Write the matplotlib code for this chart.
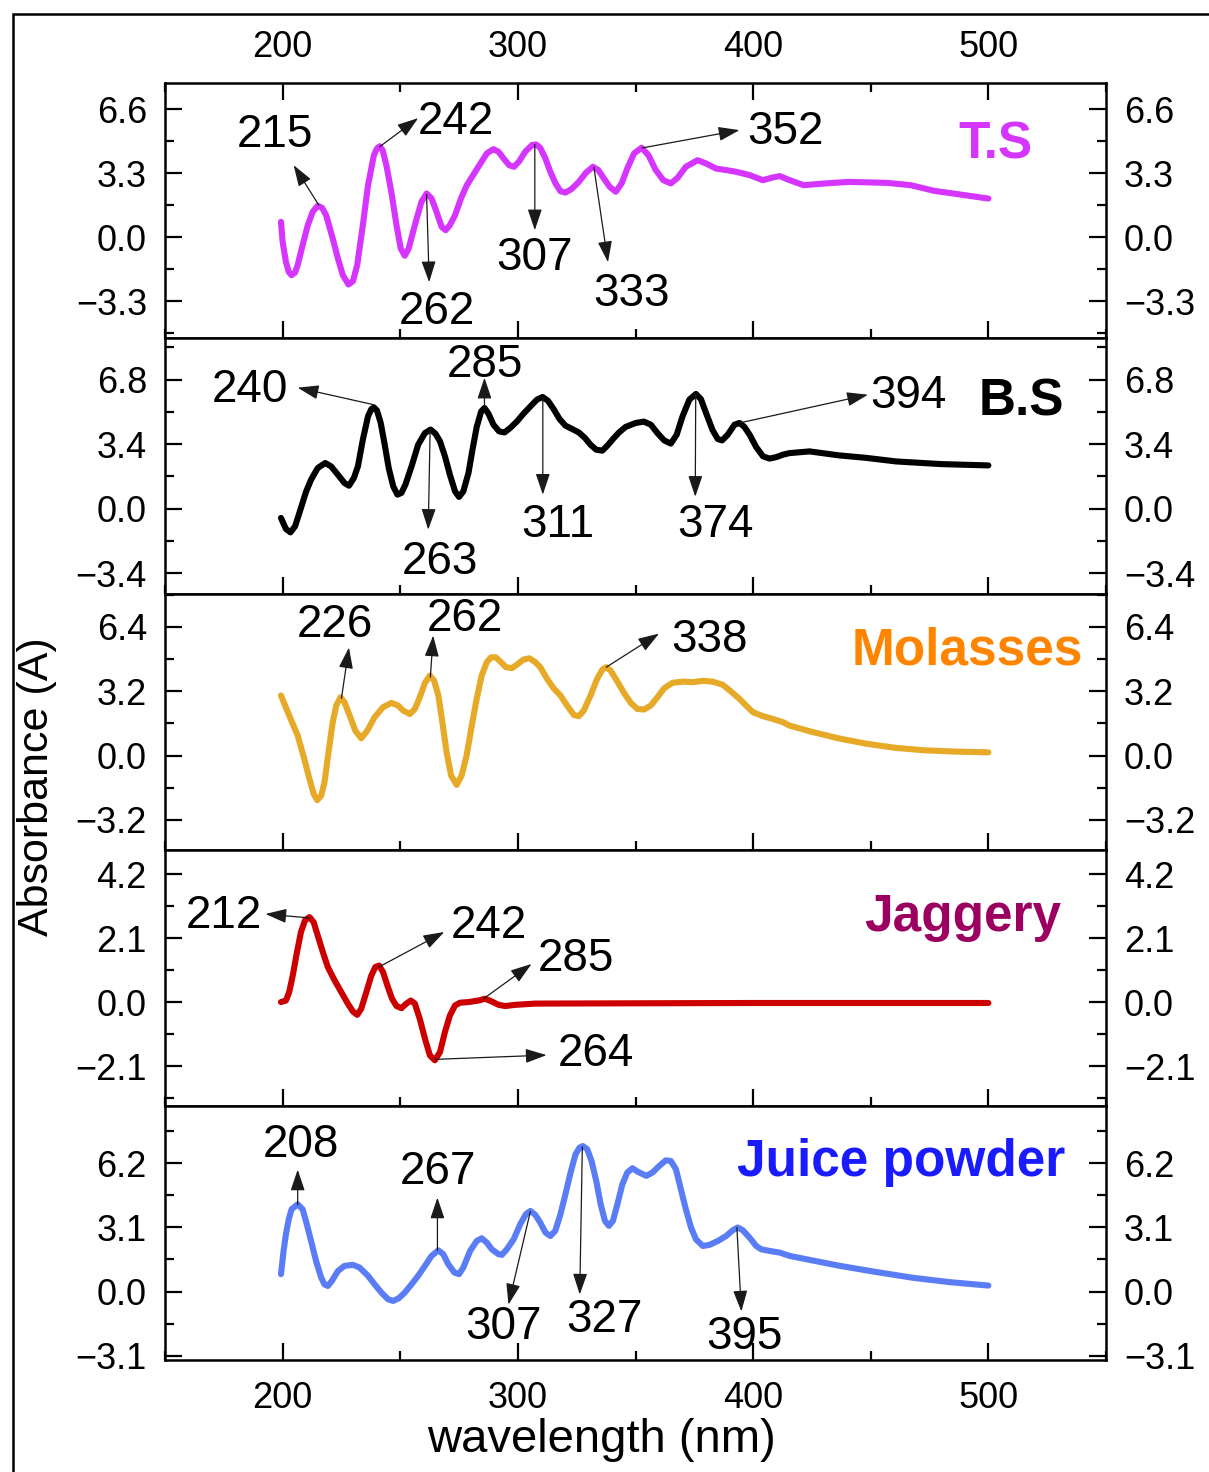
import matplotlib
matplotlib.use('Agg')
import matplotlib.pyplot as plt
from matplotlib.ticker import FixedLocator, MultipleLocator, FuncFormatter
from matplotlib.patches import Rectangle

plt.rcParams['font.family'] = ['Liberation Sans', 'DejaVu Sans']

# ---------------- data ----------------
wl_ts = [199.3, 200.0, 201.4, 202.6, 203.8, 205.3, 206.4, 208.5, 210.7, 212.8,
         214.9, 216.8, 218.5, 221.3, 223.5, 225.6, 228.0, 229.9, 231.7, 234.1,
         236.3, 238.8, 240.1, 241.3, 242.5, 244.1, 246.2, 248.4, 250.2, 251.9,
         253.6, 256.2, 259.0, 261.2, 263.3, 265.4, 267.6, 269.3, 271.1, 273.3,
         275.8, 278.3, 283.2, 286.8, 289.6, 291.8, 293.9, 296.3, 298.4, 300.6,
         303.1, 306.0, 307.7, 309.5, 311.7, 313.8, 316.0, 318.1, 320.2, 322.8,
         325.9, 329.0, 331.9, 334.2, 336.6, 339.0, 341.6, 344.1, 346.5, 349.4,
         352.6, 355.5, 358.6, 361.8, 365.0, 367.9, 371.4, 376.4, 380.0, 384.2,
         388.5, 392.8, 398.5, 404.1, 408.4, 411.3, 415.5, 421.5, 430.6, 440.5,
         457.0, 467.0, 476.9, 488.0, 500.0]
abs_ts = [0.79, -0.24, -1.27, -1.79, -1.96, -1.82, -1.44, -0.41, 0.62, 1.31,
          1.62, 1.51, 1.13, -0.07, -1.10, -1.96, -2.44, -2.27, -1.44, 0.62,
          2.68, 4.23, 4.57, 4.69, 4.49, 3.71, 2.34, 0.62, -0.58, -0.96,
          -0.58, 0.62, 1.82, 2.25, 2.00, 1.31, 0.53, 0.36, 0.62, 1.13,
          1.99, 2.68, 3.63, 4.32, 4.54, 4.40, 4.06, 3.71, 3.63, 3.92,
          4.40, 4.75, 4.78, 4.61, 4.06, 3.37, 2.77, 2.37, 2.30, 2.48,
          2.85, 3.33, 3.63, 3.46, 3.02, 2.60, 2.34, 2.77, 3.54, 4.32,
          4.61, 4.23, 3.46, 2.94, 2.77, 3.06, 3.63, 3.97, 3.80, 3.54,
          3.46, 3.37, 3.20, 2.94, 3.08, 3.15, 2.94, 2.68, 2.77, 2.85,
          2.80, 2.68, 2.39, 2.20, 1.99]

wl_bs = [199.3, 201.4, 203.3, 205.3, 207.8, 210.0, 212.1, 214.9, 218.1, 220.6,
         223.5, 226.3, 228.2, 230.3, 232.0, 234.1, 236.3, 237.7, 238.8, 240.1,
         241.7, 243.4, 245.1, 247.0, 248.8, 250.5, 252.2, 254.8, 257.6, 260.5,
         262.9, 265.0, 266.9, 269.0, 271.1, 273.3, 275.0, 276.8, 279.0, 280.7,
         282.5, 284.4, 285.8, 287.5, 289.6, 292.0, 294.3, 296.7, 299.6, 302.4,
         305.3, 308.1, 310.5, 312.8, 315.2, 317.7, 320.2, 323.1, 325.9, 328.5,
         330.9, 333.3, 335.9, 338.0, 340.4, 343.0, 345.8, 350.1, 353.6, 356.5,
         359.3, 362.2, 365.0, 367.5, 370.0, 372.9, 375.7, 377.8, 380.0, 382.8,
         385.0, 386.8, 389.2, 392.1, 394.2, 396.3, 398.5, 401.3, 404.2, 407.0,
         409.9, 412.7, 415.5, 424.0, 436.5, 448.0, 460.8, 480.0, 500.0]
abs_bs = [-0.49, -1.07, -1.25, -0.93, 0.04, 0.91, 1.53, 2.14, 2.41, 2.23,
          1.79, 1.35, 1.21, 1.62, 2.23, 3.64, 4.87, 5.25, 5.34, 5.18,
          4.52, 3.37, 2.14, 1.18, 0.74, 0.83, 1.27, 2.23, 3.37, 3.99,
          4.17, 3.95, 3.55, 2.76, 1.79, 0.91, 0.62, 0.91, 1.88, 3.11,
          4.31, 5.13, 5.31, 5.01, 4.43, 4.08, 4.02, 4.25, 4.60, 5.01,
          5.39, 5.75, 5.89, 5.69, 5.25, 4.73, 4.38, 4.20, 4.02, 3.73,
          3.37, 3.11, 3.06, 3.32, 3.67, 4.02, 4.31, 4.52, 4.59, 4.43,
          3.99, 3.60, 3.43, 3.90, 4.87, 5.75, 6.05, 5.78, 5.04, 4.13,
          3.67, 3.60, 3.90, 4.43, 4.52, 4.31, 3.90, 3.25, 2.76, 2.64,
          2.72, 2.85, 2.93, 3.02, 2.81, 2.68, 2.49, 2.35, 2.28]

wl_mo = [199.3, 202.8, 206.4, 209.2, 211.4, 213.2, 214.7, 216.4, 217.8, 219.5,
         221.3, 222.8, 224.6, 226.3, 228.5, 230.9, 233.4, 236.0, 239.1, 242.7,
         246.2, 249.1, 251.2, 254.1, 256.2, 258.3, 260.5, 262.6, 264.4, 266.2,
         267.9, 269.7, 271.6, 274.0, 276.1, 278.2, 280.4, 282.5, 284.6, 286.8,
         288.6, 290.6, 292.8, 294.9, 297.5, 300.0, 302.4, 304.9, 307.4, 309.5,
         312.4, 315.2, 318.1, 320.9, 323.8, 325.9, 328.0, 330.9, 333.7, 335.9,
         337.6, 339.4, 342.3, 345.1, 348.0, 350.8, 353.6, 356.5, 359.3, 362.2,
         365.7, 370.0, 374.3, 378.6, 382.8, 387.1, 390.6, 394.2, 397.0, 399.9,
         404.2, 408.4, 412.7, 415.5, 424.0, 436.5, 448.6, 460.8, 473.0, 485.4,
         500.0]
abs_mo = [2.99, 1.99, 1.00, -0.17, -1.16, -1.91, -2.22, -1.99, -1.33, 0.16,
          1.66, 2.49, 2.90, 2.65, 1.99, 1.24, 0.86, 1.24, 1.91, 2.41,
          2.62, 2.49, 2.24, 2.07, 2.32, 2.90, 3.62, 3.98, 3.73, 2.99,
          1.66, 0.17, -0.99, -1.46, -0.99, 0.00, 1.49, 2.82, 3.98, 4.65,
          4.89, 4.89, 4.65, 4.40, 4.35, 4.56, 4.78, 4.84, 4.65, 4.40,
          3.82, 3.35, 2.99, 2.49, 2.02, 1.96, 2.24, 2.99, 3.82, 4.28,
          4.40, 4.23, 3.68, 3.12, 2.62, 2.32, 2.29, 2.49, 2.90, 3.35,
          3.62, 3.68, 3.65, 3.72, 3.68, 3.52, 3.19, 2.82, 2.49, 2.16,
          1.96, 1.82, 1.66, 1.49, 1.21, 0.85, 0.58, 0.38, 0.26, 0.20,
          0.16]

wl_jg = [199.3, 201.4, 202.8, 204.3, 206.1, 207.8, 209.5, 211.4, 213.2, 214.9,
         217.1, 219.2, 222.1, 224.9, 227.7, 229.9, 231.7, 233.4, 235.6, 237.7,
         239.4, 241.0, 242.7, 244.5, 246.5, 248.4, 250.5, 252.6, 254.5, 256.2,
         258.3, 260.5, 262.6, 264.7, 266.9, 269.0, 271.1, 273.3, 275.4, 279.0,
         283.2, 286.1, 288.9, 291.8, 294.6, 298.9, 307.4, 350.0, 400.0, 450.0,
         500.0]
abs_jg = [0.00, 0.05, 0.33, 0.87, 1.64, 2.30, 2.68, 2.79, 2.62, 2.19,
          1.64, 1.15, 0.71, 0.33, -0.05, -0.31, -0.42, -0.22, 0.33, 0.87,
          1.15, 1.20, 0.98, 0.55, 0.11, -0.13, -0.20, -0.05, 0.05, -0.05,
          -0.55, -1.20, -1.75, -1.91, -1.64, -0.98, -0.44, -0.11, -0.02, 0.00,
          0.05, 0.11, 0.02, -0.09, -0.13, -0.09, -0.05, -0.04, -0.03, -0.03,
          -0.03]

wl_jp = [199.3, 200.4, 201.4, 202.6, 203.8, 206.4, 208.5, 209.9, 212.1, 214.2,
         216.4, 217.8, 219.2, 220.9, 223.5, 226.3, 229.9, 232.7, 236.3, 239.1,
         242.0, 244.8, 247.0, 249.4, 251.9, 254.8, 257.6, 260.5, 263.3, 266.2,
         268.3, 270.4, 273.0, 275.0, 276.8, 279.7, 282.5, 284.6, 286.8, 288.9,
         291.8, 293.2, 295.3, 298.2, 301.0, 303.4, 305.3, 307.4, 309.5, 311.7,
         313.8, 315.9, 318.1, 320.2, 322.4, 324.5, 326.2, 327.6, 329.5, 331.3,
         333.3, 335.2, 337.0, 338.7, 340.4, 342.3, 344.4, 346.5, 348.7, 350.8,
         354.6, 357.2, 360.1, 362.9, 365.0, 367.2, 369.3, 371.4, 373.6, 375.7,
         378.6, 381.4, 385.0, 388.5, 391.4, 393.5, 395.6, 398.5, 401.3, 403.4,
         407.0, 411.3, 415.5, 436.4, 452.0, 468.2, 484.0, 500.0]
abs_jp = [0.84, 1.96, 2.76, 3.49, 3.97, 4.21, 3.97, 3.41, 2.44, 1.48,
          0.67, 0.35, 0.27, 0.51, 0.99, 1.24, 1.29, 1.16, 0.76, 0.35,
          -0.05, -0.37, -0.45, -0.32, -0.05, 0.35, 0.76, 1.24, 1.72, 1.99,
          1.80, 1.32, 0.92, 0.84, 1.16, 1.96, 2.44, 2.57, 2.36, 2.04,
          1.80, 1.77, 2.04, 2.52, 3.25, 3.73, 3.89, 3.70, 3.33, 2.85,
          2.68, 2.93, 3.73, 4.69, 5.74, 6.62, 6.94, 7.02, 6.86, 6.30,
          5.34, 4.21, 3.41, 3.17, 3.41, 4.21, 5.17, 5.74, 5.95, 5.79,
          5.58, 5.74, 6.06, 6.33, 6.30, 5.90, 4.93, 3.97, 3.09, 2.52,
          2.20, 2.25, 2.44, 2.68, 2.96, 3.09, 2.96, 2.60, 2.20, 2.04,
          1.96, 1.88, 1.72, 1.25, 0.95, 0.66, 0.45, 0.29]

sample_names = ['T.S', 'B.S', 'Molasses', 'Jaggery', 'Juice powder']
yticks_ts = [-3.3, 0.0, 3.3, 6.6]
yticks_bs = [-3.4, 0.0, 3.4, 6.8]
yticks_mo = [-3.2, 0.0, 3.2, 6.4]
yticks_jg = [-2.1, 0.0, 2.1, 4.2]
yticks_jp = [-3.1, 0.0, 3.1, 6.2]
xticks = [200, 300, 400, 500]

for a, b in [(wl_ts, abs_ts), (wl_bs, abs_bs), (wl_mo, abs_mo), (wl_jg, abs_jg), (wl_jp, abs_jp)]:
    assert len(a) == len(b), (len(a), len(b))

# ---------------- layout / style ----------------
W, H = 1209, 1472
fig = plt.figure(figsize=(W / 100, H / 100), dpi=100)

left_px, right_px = 165, 1106
bounds_px = [83, 338, 594, 850, 1106, 1360]

panels = [
    dict(x=wl_ts, y=abs_ts, name=sample_names[0], yt=yticks_ts, ylim=(-5.2, 7.95),
         color='#d535ff', lcolor='#d535ff', lpos=(503, 4.74)),
    dict(x=wl_bs, y=abs_bs, name=sample_names[1], yt=yticks_bs, ylim=(-4.5, 9.0),
         color='#000000', lcolor='#000000', lpos=(514, 5.64)),
    dict(x=wl_mo, y=abs_mo, name=sample_names[2], yt=yticks_mo, ylim=(-4.7, 8.04),
         color='#e7aa28', lcolor='#ff8400', lpos=(491, 5.18)),
    dict(x=wl_jg, y=abs_jg, name=sample_names[3], yt=yticks_jg, ylim=(-3.41, 4.99),
         color='#cc0000', lcolor='#9b0060', lpos=(489, 2.79)),
    dict(x=wl_jp, y=abs_jp, name=sample_names[4], yt=yticks_jp, ylim=(-3.3, 8.95),
         color='#5a7df5', lcolor='#1a1aff', lpos=(463, 6.22)),
]

# annotations: (label, peak point, arrow tip, text centre)
annots = [
    [('215', (215.4, 1.65), (204.7, 3.71), (196.6, 5.25)),
     ('242', (241.2, 4.66), (257.6, 6.14), (273.8, 5.95)),
     ('262', (261.2, 2.20), (262.3, -2.32), (265.7, -3.85)),
     ('307', (307.2, 4.78), (307.2, 0.36), (307.1, -1.10)),
     ('333', (332.3, 3.61), (338.3, -1.29), (348.5, -2.95)),
     ('352', (352.8, 4.60), (394.2, 5.52), (413.8, 5.40))],
    [('240', (238.8, 5.48), (206.4, 6.38), (185.9, 6.25)),
     ('285', (285.8, 5.38), (285.8, 6.90), (286.2, 7.55)),
     ('263', (262.7, 4.16), (261.9, -1.11), (267.0, -2.80)),
     ('311', (310.6, 5.89), (310.6, 0.74), (316.9, -0.88)),
     ('374', (375.6, 6.01), (375.4, 0.63), (384.0, -0.88)),
     ('394', (394.2, 4.52), (448.8, 6.01), (465.9, 5.95))],
    [('226', (225.0, 2.85), (228.2, 5.38), (222.2, 6.52)),
     ('262', (262.8, 3.90), (264.0, 5.97), (277.3, 6.82)),
     ('338', (337.6, 4.40), (360.0, 6.07), (381.4, 5.77))],
    [('212', (211.4, 2.76), (192.7, 2.89), (175.2, 2.84)),
     ('242', (240.9, 1.15), (268.7, 2.30), (287.5, 2.50)),
     ('285', (285.4, 0.11), (305.8, 1.25), (324.6, 1.40)),
     ('264', (264.7, -1.88), (312.2, -1.74), (333.2, -1.70))],
    [('208', (206.4, 4.18), (206.4, 5.88), (207.7, 7.05)),
     ('267', (265.8, 1.99), (265.8, 4.53), (266.2, 5.75)),
     ('307', (305.3, 3.86), (296.0, -0.63), (293.9, -1.70)),
     ('327', (327.4, 6.98), (326.3, -0.14), (336.6, -1.35)),
     ('395', (393.1, 3.09), (395.0, -0.96), (396.3, -2.18))],
]

fmt = FuncFormatter(lambda v, p: ('%.1f' % v).replace('-', '\u2212'))

for i, pn in enumerate(panels):
    top, bot = bounds_px[i], bounds_px[i + 1]
    ax = fig.add_axes([left_px / W, 1 - bot / H, (right_px - left_px) / W, (bot - top) / H])
    ax.plot(pn['x'], pn['y'], color=pn['color'], lw=4.4, solid_joinstyle='round',
            solid_capstyle='round', zorder=3)
    ax.set_xlim(150, 550)
    ax.set_ylim(*pn['ylim'])
    ax.xaxis.set_major_locator(FixedLocator(xticks))
    ax.xaxis.set_minor_locator(MultipleLocator(50))
    ax.yaxis.set_major_locator(FixedLocator(pn['yt']))
    step = pn['yt'][2] - pn['yt'][1]
    ax.yaxis.set_minor_locator(MultipleLocator(step / 2))
    ax.yaxis.set_major_formatter(fmt)
    for s in ax.spines.values():
        s.set_linewidth(1.8)
    ax.tick_params(axis='both', which='both', direction='in', width=1.6)
    ax.tick_params(axis='both', which='major', length=12)
    ax.tick_params(axis='both', which='minor', length=6.5)
    ax.tick_params(axis='y', which='both', left=True, right=True,
                   labelleft=True, labelright=True, labelsize=26)
    ax.tick_params(axis='y', which='major', pad=13)
    if i == 0:
        ax.tick_params(axis='x', which='both', top=True, bottom=True,
                       labeltop=True, labelbottom=False, labelsize=26, pad=13)
    elif i == len(panels) - 1:
        ax.tick_params(axis='x', which='both', top=False, bottom=True,
                       labeltop=False, labelbottom=True, labelsize=26, pad=15)
    else:
        ax.tick_params(axis='x', which='both', top=False, bottom=True,
                       labeltop=False, labelbottom=False)
    ax.text(pn['lpos'][0], pn['lpos'][1], pn['name'], color=pn['lcolor'],
            fontsize=37, fontweight='bold', ha='center', va='center', zorder=5)
    for lab, peak, tip, txt in annots[i]:
        ax.annotate('', xy=tip, xytext=peak,
                    arrowprops=dict(arrowstyle='-|>,head_length=0.65,head_width=0.22',
                                    lw=0.9, color='#1a1a1a', shrinkA=0, shrinkB=0,
                                    mutation_scale=20), zorder=4)
        ax.text(txt[0], txt[1], lab, fontsize=33, ha='center', va='center', zorder=5)

fig.text(37 / W, 1 - 787 / H, 'Absorbance (A)', rotation=90, fontsize=31,
         ha='center', va='center')
fig.text(601 / W, 1 - 1440 / H, 'wavelength (nm)', fontsize=34,
         ha='center', va='center')

fig.add_artist(Rectangle((13 / W, -0.05), 1.2, 1 - 14 / H + 0.05,
                         transform=fig.transFigure, fill=False, lw=1.8,
                         edgecolor='black', clip_on=False))

fig.savefig('out.png', dpi=100)
